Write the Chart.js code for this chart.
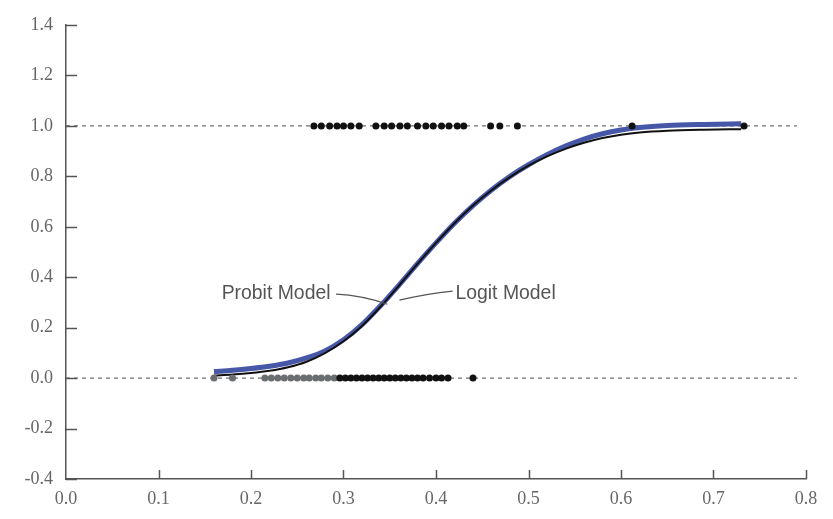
<!DOCTYPE html>
<html>
<head>
<meta charset="utf-8">
<script src="https://cdn.jsdelivr.net/npm/chart.js@4/dist/chart.umd.min.js"></script>
<style>
  html, body { margin: 0; padding: 0; background: #fff; }
  #wrap { width: 833px; height: 519px; }
</style>
</head>
<body>
<div id="wrap"><canvas id="c"></canvas></div>
<script>
// fitted curves
const curveX = [0.16, 0.18, 0.20, 0.22, 0.24, 0.26, 0.28, 0.30, 0.32, 0.34, 0.36, 0.38, 0.40, 0.42, 0.44, 0.46, 0.48, 0.50, 0.52, 0.54, 0.56, 0.58, 0.60, 0.62, 0.65, 0.69, 0.73];
const logitY = [0.026, 0.031, 0.038, 0.047, 0.060, 0.080, 0.108, 0.152, 0.212, 0.287, 0.369, 0.454, 0.536, 0.614, 0.684, 0.746, 0.800, 0.846, 0.886, 0.920, 0.948, 0.969, 0.984, 0.994, 1.002, 1.006, 1.008];
const probitY = [0.010, 0.014, 0.020, 0.029, 0.043, 0.065, 0.099, 0.146, 0.207, 0.283, 0.367, 0.453, 0.536, 0.614, 0.684, 0.745, 0.797, 0.842, 0.879, 0.909, 0.933, 0.952, 0.965, 0.974, 0.981, 0.985, 0.987];

// observations
const onesX = [0.268, 0.276, 0.285, 0.293, 0.300, 0.308, 0.317, 0.335, 0.344, 0.352, 0.361, 0.369, 0.380, 0.389, 0.397, 0.406, 0.414, 0.423, 0.430, 0.459, 0.469, 0.488, 0.612, 0.733];
const zerosGrayX = [0.16, 0.18, 0.215, 0.222, 0.229, 0.236, 0.243, 0.250, 0.257, 0.263, 0.270, 0.276, 0.283, 0.290];
const zerosBlackX = [0.296, 0.302, 0.308, 0.314, 0.320, 0.326, 0.332, 0.338, 0.344, 0.350, 0.356, 0.362, 0.368, 0.374, 0.380, 0.386, 0.393, 0.400, 0.406, 0.413, 0.440];

// reference lines and ticks
const refX = [0, 0.79];
const xTicks = [0, 0.1, 0.2, 0.3, 0.4, 0.5, 0.6, 0.7, 0.8];
const yTicks = [-0.4, -0.2, 0, 0.2, 0.4, 0.6, 0.8, 1.0, 1.2, 1.4];

const pts = (xs, ys) => xs.map((x, i) => ({ x, y: Array.isArray(ys) ? ys[i] : ys }));

// labels with leader lines, placed in data units
const notes = [
  { text: 'Probit Model', at: [0.286, 0.337], align: 'right', lead: [[0.292, 0.333], [0.320, 0.328], [0.3475, 0.293]] },
  { text: 'Logit Model', at: [0.421, 0.337], align: 'left', lead: [[0.3605, 0.309], [0.390, 0.335], [0.418, 0.345]] }
];

const extras = {
  id: 'extras',
  afterDraw(chart) {
    const { ctx, scales: { x, y }, chartArea } = chart;
    ctx.save();
    // inward tick marks
    ctx.strokeStyle = '#555';
    ctx.lineWidth = 1.5;
    xTicks.slice(1).forEach(v => {
      const px = Math.round(x.getPixelForValue(v)) + 0.5;
      ctx.beginPath(); ctx.moveTo(px, chartArea.bottom); ctx.lineTo(px, chartArea.bottom - 9); ctx.stroke();
    });
    yTicks.forEach(v => {
      const py = Math.round(y.getPixelForValue(v)) + 0.5;
      ctx.beginPath(); ctx.moveTo(chartArea.left, py); ctx.lineTo(chartArea.left + 11, py); ctx.stroke();
    });
    // annotations (slightly condensed text)
    notes.forEach(n => {
      const tx = x.getPixelForValue(n.at[0]), ty = y.getPixelForValue(n.at[1]);
      ctx.save();
      ctx.translate(tx, ty);
      ctx.scale(0.97, 1);
      ctx.font = '20px "Liberation Sans", Arial, sans-serif';
      ctx.fillStyle = '#555';
      ctx.textBaseline = 'middle';
      ctx.textAlign = n.align;
      ctx.fillText(n.text, 0, 0);
      ctx.restore();
      ctx.strokeStyle = '#555';
      ctx.lineWidth = 1.2;
      ctx.beginPath();
      const p = n.lead.map(([a, b]) => [x.getPixelForValue(a), y.getPixelForValue(b)]);
      ctx.moveTo(p[0][0], p[0][1]);
      ctx.quadraticCurveTo(p[1][0], p[1][1], p[2][0], p[2][1]);
      ctx.stroke();
    });
    ctx.restore();
  }
};

const tickFont = { family: '"Liberation Serif", "DejaVu Serif", serif', size: 18 };

new Chart(document.getElementById('c'), {
  type: 'scatter',
  data: {
    datasets: [
      { label: 'ones', data: pts(onesX, 1), backgroundColor: '#111', borderColor: '#111', pointRadius: 3.5, pointBorderWidth: 0 },
      { label: 'zeros dark', data: pts(zerosBlackX, 0), backgroundColor: '#111', borderColor: '#111', pointRadius: 3.5, pointBorderWidth: 0 },
      { label: 'zeros gray', data: pts(zerosGrayX, 0), backgroundColor: '#6a6e70', borderColor: '#6a6e70', pointRadius: 3.5, pointBorderWidth: 0 },
      { label: 'Probit Model', type: 'line', data: pts(curveX, probitY), borderColor: '#111', borderWidth: 2, pointRadius: 0, cubicInterpolationMode: 'monotone', fill: false },
      { label: 'Logit Model', type: 'line', data: pts(curveX, logitY), borderColor: '#4657a8', borderWidth: 5, pointRadius: 0, cubicInterpolationMode: 'monotone', fill: false },
      { label: 'ref1', type: 'line', data: pts(refX, 1), borderColor: '#666', borderWidth: 1.2, borderDash: [4, 4], pointRadius: 0 },
      { label: 'ref0', type: 'line', data: pts(refX, 0), borderColor: '#666', borderWidth: 1.2, borderDash: [4, 4], pointRadius: 0 }
    ]
  },
  options: {
    responsive: true,
    maintainAspectRatio: false,
    animation: false,
    layout: { padding: { top: 25, right: 27, left: 0, bottom: 0 } },
    plugins: { legend: { display: false }, tooltip: { enabled: false } },
    scales: {
      x: {
        type: 'linear', min: 0, max: 0.8,
        afterBuildTicks: s => { s.ticks = xTicks.map(v => ({ value: v })); },
        afterFit: s => { s.height = 40; },
        grid: { display: false, drawTicks: false },
        border: { display: true, color: '#555', width: 1.5 },
        ticks: { color: '#666', font: tickFont, padding: 9, callback: v => v.toFixed(1) }
      },
      y: {
        type: 'linear', min: -0.4, max: 1.4,
        afterBuildTicks: s => { s.ticks = yTicks.map(v => ({ value: v })); },
        afterFit: s => { s.width = 66; },
        grid: { display: false, drawTicks: false },
        border: { display: true, color: '#555', width: 1.5 },
        ticks: { color: '#666', font: tickFont, padding: 13, callback: v => v.toFixed(1) }
      }
    }
  },
  plugins: [extras]
});
</script>
</body>
</html>
